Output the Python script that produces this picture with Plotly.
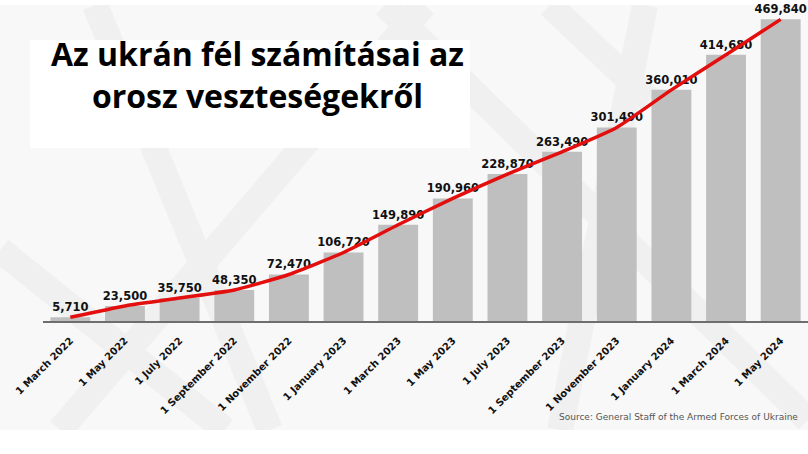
import plotly.graph_objects as go

# ---- data ----
dates = ["1 March 2022", "1 May 2022", "1 July 2022", "1 September 2022",
         "1 November 2022", "1 January 2023", "1 March 2023", "1 May 2023",
         "1 July 2023", "1 September 2023", "1 November 2023", "1 January 2024",
         "1 March 2024", "1 May 2024"]
losses = [5710, 23500, 35750, 48350, 72470, 106720, 149890, 190960,
          228870, 263490, 301490, 360010, 414680, 469840]
bar_labels = [f"{v:,}" for v in losses]

title_text = "Az ukrán fél számításai az<br>orosz veszteségekről"
source_text = "Source: General Staff of the Armed Forces of Ukraine"

W, H = 808, 454
ML, MR, MT, MB = 43, 0, 0, 133
PW, PH = W - ML - MR, H - MT - MB


def px(x):
    return (x - ML) / PW


def py(y):
    return (H - MB - y) / PH


fig = go.Figure()
fig.add_trace(go.Bar(
    x=dates, y=losses, text=bar_labels, textposition="outside",
    textfont=dict(family="DejaVu Sans", size=11.5, color="#111111", weight="bold"),
    marker=dict(color="#bfbfbf", line=dict(width=0)),
    cliponaxis=False, constraintext="none", showlegend=False,
))
fig.add_trace(go.Scatter(
    x=dates, y=losses, mode="lines",
    line=dict(color="#e30e0e", width=3.5, shape="spline", smoothing=0.5),
    cliponaxis=False, showlegend=False,
))

shapes = []
# light background panel
shapes.append(dict(type="rect", xref="paper", yref="paper", x0=px(0), x1=px(808),
                   y0=py(430), y1=py(5), fillcolor="#f8f8f8", line=dict(width=0),
                   layer="below"))
# faint decorative stripes
stripes = [((95, 5), (270, 430)), ((424, 5), (60, 430)), ((0, 250), (225, 430)),
           ((385, 5), (808, 420)), ((645, 5), (560, 430)), ((550, 5), (650, 100))]
for (x0, y0), (x1, y1) in stripes:
    shapes.append(dict(type="line", xref="paper", yref="paper",
                       x0=px(x0), y0=py(y0), x1=px(x1), y1=py(y1),
                       line=dict(color="#f0f0f0", width=26), layer="below"))
# keep white bands outside the panel
shapes.append(dict(type="rect", xref="paper", yref="paper", x0=px(0), x1=px(808),
                   y0=py(454), y1=py(430), fillcolor="#ffffff", line=dict(width=0),
                   layer="below"))
shapes.append(dict(type="rect", xref="paper", yref="paper", x0=px(0), x1=px(808),
                   y0=py(5), y1=py(-20), fillcolor="#ffffff", line=dict(width=0),
                   layer="below"))
# white title box
shapes.append(dict(type="rect", xref="paper", yref="paper", x0=px(30), x1=px(470),
                   y0=py(148), y1=py(40), fillcolor="#ffffff", line=dict(width=0),
                   layer="below"))

annotations = [
    dict(text=title_text, xref="paper", yref="paper", x=px(257), y=py(74),
         xanchor="center", yanchor="middle", showarrow=False, align="center",
         font=dict(family="Open Sans", size=32, color="#000000", weight="bold")),
    dict(text=source_text, xref="paper", yref="paper", x=px(800), y=py(417),
         xanchor="right", yanchor="middle", showarrow=False,
         font=dict(family="DejaVu Sans", size=9, color="#555555")),
]

fig.update_layout(
    width=W, height=H, margin=dict(l=ML, r=MR, t=MT, b=MB, pad=0),
    paper_bgcolor="#ffffff", plot_bgcolor="rgba(0,0,0,0)",
    bargap=0.27, shapes=shapes, annotations=annotations,
    xaxis=dict(showline=True, linecolor="#6e6e6e", linewidth=1.5, showgrid=False,
               tickangle=-45, ticks="", zeroline=False, ticklabelstandoff=8,
               tickfont=dict(family="DejaVu Sans", size=10, color="#111111", weight="bold")),
    yaxis=dict(range=[0, 500000], visible=False, showgrid=False, zeroline=False),
)

fig.write_html("out.html")
